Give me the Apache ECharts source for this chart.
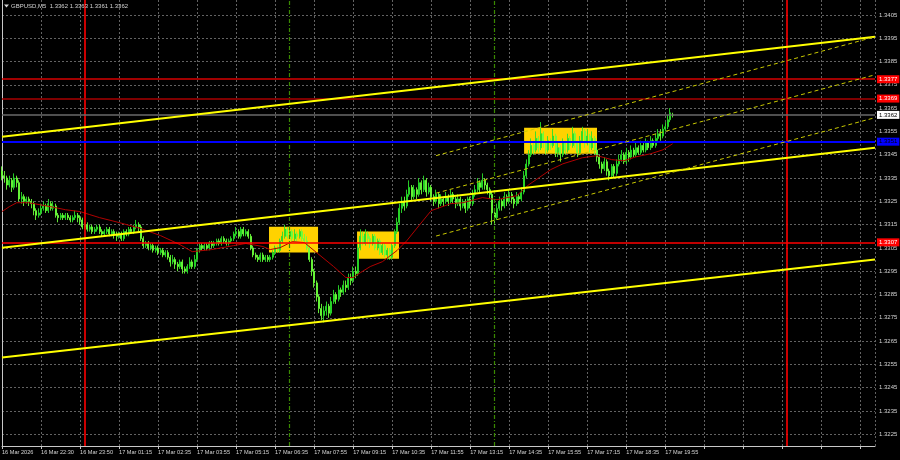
<!DOCTYPE html>
<html><head><meta charset="utf-8">
<script src="https://cdn.jsdelivr.net/npm/echarts@6/dist/echarts.min.js"></script>
<style>html,body{margin:0;padding:0;background:#000;}#c{width:900px;height:460px;}</style>
</head><body><div id="c"></div>
<script>
// ---------------- data ----------------
const symbolTitle = 'GBPUSD,M5  1.3362 1.3363 1.3361 1.3362';
// time-axis tick labels, one every 16 bars (80 minutes of M5 bars)
const xTickLabels = ['16 Mar 2026','16 Mar 22:30','16 Mar 23:50','17 Mar 01:15','17 Mar 02:35','17 Mar 03:55',
  '17 Mar 05:15','17 Mar 06:35','17 Mar 07:55','17 Mar 09:15','17 Mar 10:35','17 Mar 11:55','17 Mar 13:15',
  '17 Mar 14:35','17 Mar 15:55','17 Mar 17:15','17 Mar 18:35','17 Mar 19:55'];
const barSlots = 358;       // bar slots visible on the time axis (incl. empty right margin)
const tickEvery = 16;       // bars between time labels
const priceMin = 1.3220, priceMax = 1.34114, priceStep = 0.0005;

const opens = [
1.3338,1.3336,1.3335,1.3332,1.3334,1.3331,1.3335,1.3333,1.3326,1.3327,
1.3325,1.3326,1.3325,1.3324,1.3321,1.3319,1.3320,1.3322,1.3323,1.3321,
1.3324,1.3322,1.3323,1.3319,1.3318,1.3319,1.3318,1.3319,1.3318,1.3317,
1.3318,1.3319,1.3318,1.3317,1.3314,1.3315,1.3313,1.3314,1.3312,1.3313,
1.3314,1.3312,1.3311,1.3312,1.3313,1.3311,1.3312,1.3311,1.3310,1.3311,
1.3309,1.3312,1.3311,1.3313,1.3312,1.3314,1.3315,1.3314,1.3309,1.3306,
1.3307,1.3305,1.3306,1.3304,1.3305,1.3303,1.3304,1.3302,1.3303,1.3301,
1.3299,1.3300,1.3298,1.3297,1.3299,1.3296,1.3295,1.3297,1.3299,1.3297,
1.3300,1.3304,1.3306,1.3305,1.3306,1.3305,1.3307,1.3306,1.3307,1.3308,
1.3307,1.3309,1.3308,1.3307,1.3308,1.3309,1.3311,1.3312,1.3310,1.3313,
1.3311,1.3312,1.3310,1.3305,1.3302,1.3301,1.3300,1.3302,1.3300,1.3301,
1.3300,1.3301,1.3303,1.3305,1.3304,1.3308,1.3310,1.3313,1.3310,1.3312,
1.3309,1.3311,1.3310,1.3312,1.3309,1.3308,1.3305,1.3300,1.3295,1.3290,
1.3284,1.3279,1.3276,1.3278,1.3280,1.3277,1.3282,1.3285,1.3283,1.3287,
1.3286,1.3289,1.3288,1.3292,1.3291,1.3295,1.3294,1.3305,1.3310,1.3307,
1.3311,1.3309,1.3307,1.3310,1.3305,1.3308,1.3303,1.3306,1.3302,1.3304,
1.3301,1.3306,1.3312,1.3316,1.3322,1.3325,1.3323,1.3328,1.3331,1.3327,
1.3330,1.3328,1.3333,1.3330,1.3334,1.3329,1.3331,1.3327,1.3325,1.3328,
1.3324,1.3326,1.3325,1.3327,1.3325,1.3328,1.3326,1.3324,1.3326,1.3323,
1.3325,1.3322,1.3326,1.3324,1.3328,1.3330,1.3333,1.3331,1.3334,1.3332,
1.3330,1.3328,1.3320,1.3318,1.3322,1.3325,1.3323,1.3327,1.3325,1.3328,
1.3326,1.3324,1.3327,1.3326,1.3329,1.3336,1.3341,1.3345,1.3349,1.3347,
1.3352,1.3348,1.3354,1.3350,1.3347,1.3351,1.3349,1.3353,1.3346,1.3348,
1.3345,1.3350,1.3347,1.3352,1.3349,1.3354,1.3350,1.3346,1.3351,1.3355,
1.3350,1.3353,1.3348,1.3352,1.3347,1.3344,1.3341,1.3339,1.3342,1.3338,
1.3336,1.3340,1.3337,1.3341,1.3343,1.3345,1.3342,1.3346,1.3344,1.3347,
1.3345,1.3348,1.3346,1.3349,1.3347,1.3350,1.3348,1.3351,1.3349,1.3352,
1.3354,1.3353,1.3356,1.3357,1.3360,1.3362];
const highs = [
1.3340,1.3338,1.3336,1.3336,1.3335,1.3337,1.3336,1.3334,1.3329,1.3328,
1.3327,1.3327,1.3326,1.3325,1.3322,1.3322,1.3324,1.3325,1.3324,1.3326,
1.3325,1.3325,1.3324,1.3320,1.3320,1.3320,1.3320,1.3320,1.3319,1.3319,
1.3321,1.3320,1.3319,1.3318,1.3316,1.3316,1.3315,1.3315,1.3314,1.3315,
1.3315,1.3313,1.3313,1.3314,1.3314,1.3313,1.3313,1.3312,1.3312,1.3312,
1.3313,1.3313,1.3314,1.3314,1.3315,1.3317,1.3316,1.3315,1.3310,1.3308,
1.3308,1.3307,1.3307,1.3306,1.3306,1.3305,1.3305,1.3304,1.3304,1.3302,
1.3302,1.3301,1.3299,1.3300,1.3300,1.3297,1.3298,1.3301,1.3300,1.3302,
1.3305,1.3307,1.3307,1.3307,1.3307,1.3308,1.3308,1.3308,1.3309,1.3309,
1.3310,1.3310,1.3309,1.3309,1.3310,1.3312,1.3314,1.3313,1.3314,1.3314,
1.3313,1.3313,1.3311,1.3306,1.3303,1.3302,1.3303,1.3303,1.3302,1.3302,
1.3302,1.3304,1.3306,1.3306,1.3309,1.3312,1.3315,1.3314,1.3314,1.3313,
1.3313,1.3312,1.3313,1.3313,1.3311,1.3310,1.3306,1.3301,1.3296,1.3291,
1.3285,1.3281,1.3280,1.3282,1.3281,1.3284,1.3287,1.3286,1.3289,1.3288,
1.3291,1.3291,1.3294,1.3294,1.3297,1.3297,1.3307,1.3313,1.3312,1.3313,
1.3312,1.3310,1.3311,1.3311,1.3309,1.3309,1.3307,1.3307,1.3305,1.3305,
1.3307,1.3313,1.3318,1.3324,1.3327,1.3327,1.3330,1.3334,1.3332,1.3332,
1.3331,1.3335,1.3334,1.3336,1.3335,1.3333,1.3332,1.3328,1.3330,1.3329,
1.3328,1.3327,1.3329,1.3328,1.3330,1.3329,1.3327,1.3328,1.3327,1.3326,
1.3326,1.3327,1.3327,1.3330,1.3332,1.3335,1.3334,1.3337,1.3335,1.3333,
1.3331,1.3329,1.3322,1.3324,1.3327,1.3326,1.3329,1.3328,1.3330,1.3329,
1.3327,1.3329,1.3328,1.3331,1.3338,1.3343,1.3347,1.3352,1.3351,1.3355,
1.3353,1.3359,1.3355,1.3351,1.3353,1.3352,1.3356,1.3354,1.3350,1.3349,
1.3352,1.3351,1.3354,1.3353,1.3357,1.3355,1.3351,1.3353,1.3357,1.3356,
1.3356,1.3354,1.3355,1.3353,1.3348,1.3345,1.3342,1.3344,1.3343,1.3339,
1.3341,1.3341,1.3343,1.3345,1.3347,1.3346,1.3348,1.3347,1.3349,1.3348,
1.3350,1.3349,1.3351,1.3350,1.3352,1.3351,1.3353,1.3352,1.3354,1.3356,
1.3356,1.3358,1.3359,1.3362,1.3365,1.3363];
const lows = [
1.3334,1.3333,1.3330,1.3331,1.3329,1.3330,1.3331,1.3325,1.3324,1.3323,
1.3324,1.3323,1.3322,1.3319,1.3317,1.3318,1.3319,1.3321,1.3320,1.3320,
1.3321,1.3321,1.3318,1.3316,1.3317,1.3317,1.3317,1.3317,1.3316,1.3316,
1.3317,1.3316,1.3315,1.3313,1.3313,1.3312,1.3312,1.3311,1.3311,1.3312,
1.3311,1.3310,1.3310,1.3311,1.3310,1.3310,1.3309,1.3308,1.3309,1.3308,
1.3308,1.3310,1.3310,1.3311,1.3311,1.3313,1.3312,1.3308,1.3305,1.3305,
1.3304,1.3304,1.3303,1.3303,1.3302,1.3302,1.3301,1.3301,1.3300,1.3297,
1.3298,1.3296,1.3295,1.3296,1.3294,1.3294,1.3294,1.3296,1.3296,1.3296,
1.3299,1.3303,1.3304,1.3304,1.3304,1.3304,1.3305,1.3305,1.3306,1.3306,
1.3306,1.3307,1.3306,1.3306,1.3307,1.3308,1.3310,1.3309,1.3309,1.3310,
1.3310,1.3309,1.3304,1.3301,1.3300,1.3299,1.3299,1.3299,1.3299,1.3299,
1.3299,1.3300,1.3302,1.3303,1.3303,1.3307,1.3309,1.3309,1.3309,1.3308,
1.3308,1.3308,1.3309,1.3308,1.3307,1.3304,1.3299,1.3293,1.3288,1.3282,
1.3277,1.3274,1.3273,1.3276,1.3275,1.3276,1.3281,1.3281,1.3282,1.3284,
1.3285,1.3286,1.3287,1.3289,1.3290,1.3292,1.3293,1.3304,1.3306,1.3306,
1.3307,1.3305,1.3306,1.3304,1.3304,1.3302,1.3302,1.3301,1.3300,1.3300,
1.3300,1.3305,1.3311,1.3315,1.3320,1.3321,1.3322,1.3327,1.3325,1.3326,
1.3326,1.3327,1.3328,1.3329,1.3327,1.3328,1.3325,1.3323,1.3324,1.3322,
1.3323,1.3323,1.3324,1.3323,1.3324,1.3324,1.3322,1.3323,1.3321,1.3322,
1.3320,1.3321,1.3322,1.3323,1.3327,1.3329,1.3329,1.3330,1.3330,1.3328,
1.3326,1.3315,1.3315,1.3317,1.3321,1.3321,1.3322,1.3323,1.3324,1.3324,
1.3322,1.3323,1.3324,1.3325,1.3328,1.3335,1.3340,1.3344,1.3345,1.3346,
1.3346,1.3347,1.3348,1.3345,1.3346,1.3347,1.3348,1.3344,1.3344,1.3342,
1.3344,1.3345,1.3346,1.3347,1.3348,1.3348,1.3344,1.3345,1.3350,1.3348,
1.3349,1.3346,1.3347,1.3345,1.3342,1.3339,1.3337,1.3338,1.3336,1.3334,
1.3335,1.3335,1.3336,1.3340,1.3342,1.3341,1.3341,1.3342,1.3343,1.3344,
1.3344,1.3345,1.3345,1.3346,1.3346,1.3347,1.3347,1.3348,1.3348,1.3351,
1.3351,1.3352,1.3355,1.3356,1.3359,1.3361];
const closes = [
1.3336,1.3335,1.3332,1.3334,1.3331,1.3335,1.3333,1.3326,1.3327,1.3325,
1.3326,1.3325,1.3324,1.3321,1.3319,1.3320,1.3322,1.3323,1.3321,1.3324,
1.3322,1.3323,1.3319,1.3318,1.3319,1.3318,1.3319,1.3318,1.3317,1.3318,
1.3319,1.3318,1.3317,1.3314,1.3315,1.3313,1.3314,1.3312,1.3313,1.3314,
1.3312,1.3311,1.3312,1.3313,1.3311,1.3312,1.3311,1.3310,1.3311,1.3309,
1.3312,1.3311,1.3313,1.3312,1.3314,1.3315,1.3314,1.3309,1.3306,1.3307,
1.3305,1.3306,1.3304,1.3305,1.3303,1.3304,1.3302,1.3303,1.3301,1.3299,
1.3300,1.3298,1.3297,1.3299,1.3296,1.3295,1.3297,1.3299,1.3297,1.3300,
1.3304,1.3306,1.3305,1.3306,1.3305,1.3307,1.3306,1.3307,1.3308,1.3307,
1.3309,1.3308,1.3307,1.3308,1.3309,1.3311,1.3312,1.3310,1.3313,1.3311,
1.3312,1.3310,1.3305,1.3302,1.3301,1.3300,1.3302,1.3300,1.3301,1.3300,
1.3301,1.3303,1.3305,1.3304,1.3308,1.3310,1.3313,1.3310,1.3312,1.3309,
1.3311,1.3310,1.3312,1.3309,1.3308,1.3305,1.3300,1.3295,1.3290,1.3284,
1.3279,1.3276,1.3278,1.3280,1.3277,1.3282,1.3285,1.3283,1.3287,1.3286,
1.3289,1.3288,1.3292,1.3291,1.3295,1.3294,1.3305,1.3310,1.3307,1.3311,
1.3309,1.3307,1.3310,1.3305,1.3308,1.3303,1.3306,1.3302,1.3304,1.3301,
1.3306,1.3312,1.3316,1.3322,1.3325,1.3323,1.3328,1.3331,1.3327,1.3330,
1.3328,1.3333,1.3330,1.3334,1.3329,1.3331,1.3327,1.3325,1.3328,1.3324,
1.3326,1.3325,1.3327,1.3325,1.3328,1.3326,1.3324,1.3326,1.3323,1.3325,
1.3322,1.3326,1.3324,1.3328,1.3330,1.3333,1.3331,1.3334,1.3332,1.3330,
1.3328,1.3320,1.3318,1.3322,1.3325,1.3323,1.3327,1.3325,1.3328,1.3326,
1.3324,1.3327,1.3326,1.3329,1.3336,1.3341,1.3345,1.3349,1.3347,1.3352,
1.3348,1.3354,1.3350,1.3347,1.3351,1.3349,1.3353,1.3346,1.3348,1.3345,
1.3350,1.3347,1.3352,1.3349,1.3354,1.3350,1.3346,1.3351,1.3355,1.3350,
1.3353,1.3348,1.3352,1.3347,1.3344,1.3341,1.3339,1.3342,1.3338,1.3336,
1.3340,1.3337,1.3341,1.3343,1.3345,1.3342,1.3346,1.3344,1.3347,1.3345,
1.3348,1.3346,1.3349,1.3347,1.3350,1.3348,1.3351,1.3349,1.3352,1.3354,
1.3353,1.3356,1.3357,1.3360,1.3363,1.3362];

// moving average, read at sampled bars
const maBars = [0,3,6,11,20,26,32,36,40,48,57,65,73,78,86,95,100,107,110,114,119,124,129,136,141,144,147,151,156,162,166,171,176,184,189,197,203,211,216,225,230,238,244,250,255,260,266,271,275];
const maValues = [1.33206,1.33227,1.33244,1.33244,1.33227,1.33214,1.33206,1.33193,1.33180,1.33159,1.33133,1.33103,1.33064,1.33034,1.33043,1.33060,1.33069,1.33056,1.33043,1.33051,1.33077,1.33073,1.33030,1.32970,1.32923,1.32923,1.32944,1.32970,1.32991,1.33039,1.33081,1.33146,1.33210,1.33240,1.33244,1.33266,1.33257,1.33274,1.33321,1.33386,1.33411,1.33437,1.33446,1.33429,1.33424,1.33441,1.33454,1.33471,1.33497];

// trend lines: [bar0, price0, bar1, price1]
const trendSolid = [[0,1.33527,358,1.33956],[0,1.33051,358,1.33480],[0,1.32580,358,1.33000]];
const trendDashed = [[178,1.33446,358,1.33956],[178,1.33285,358,1.33793],[178,1.33101,358,1.33609]];
// horizontal levels
const levelPrices = [1.33774,1.33691,1.33621,1.33506,1.33074];
// vertical lines (bar index)
const dayBars = [34, 322];
const sessionBars = [118, 202];
// rectangles: [bar0, price0, bar1, price1]
const boxes = [[109.5,1.33141,129.6,1.33030],[145.6,1.33120,162.8,1.33004],[214.1,1.33566,244,1.33454]];

// ---------------- styles ----------------
const FONT = 'Liberation Sans';
const TXT = '#d4d4d4';
const GRIDC = '#626262';
const levelStyle = [
  {c:'#d80000', w:1.6, bg:'#ff0000', tc:'#ffffff'},
  {c:'#a80000', w:1.6, bg:'#ff0000', tc:'#ffffff'},
  {c:'#6a6a6a', w:1.5, bg:'#ffffff', tc:'#000000'},
  {c:'#0000ff', w:2, bg:'#0000ff', tc:'#000000'},
  {c:'#ff0000', w:1.6, bg:'#ff0000', tc:'#ffffff'}
];

const candleData = closes.map((c, i) => [i, opens[i], c, lows[i], highs[i]]);
const maData = maBars.map((b, k) => [b, maValues[k]]);

function vLineSeries(bars, color, width, type, z) {
  return { type: 'line', z: z, data: [], symbol: 'none',
    markLine: { silent: true, symbol: ['none', 'none'], animation: false, precision: 6,
      lineStyle: { color: color, width: width, type: type, opacity: 1 }, label: { show: false },
      data: bars.map(b => ({ xAxis: b })) } };
}

const series = [];
// rectangles (behind)
series.push({
  type: 'line', data: [], silent: true, z: 1, symbol: 'none',
  markArea: { silent: true, itemStyle: { color: '#ffd200', opacity: 1 },
    data: boxes.map(b => [{ coord: [b[0], b[1]] }, { coord: [b[2], b[3]] }]) }
});
series.push({
  type: 'candlestick', z: 3, data: candleData, barWidth: 1.5,
  itemStyle: { color: '#00a800', color0: '#6cff3a', borderColor: '#2ae02a', borderColor0: '#6cff3a', borderWidth: 0.9 }
});
series.push({ type: 'line', z: 4, data: maData, symbol: 'none', lineStyle: { color: '#b00000', width: 1 } });
trendSolid.forEach(t => series.push({ type: 'line', z: 5, data: [[t[0], t[1]], [t[2], t[3]]], symbol: 'none',
  lineStyle: { color: '#ffff00', width: 2 } }));
trendDashed.forEach(t => series.push({ type: 'line', z: 5, data: [[t[0], t[1]], [t[2], t[3]]], symbol: 'none',
  lineStyle: { color: '#c8c800', width: 1, type: [4, 3] } }));
series.push(vLineSeries(dayBars, '#ff0000', 1.6, 'solid', 6));
series.push(vLineSeries(sessionBars, '#3a8a00', 1.2, [4, 2, 1, 2], 6));
// horizontal levels, one series each so each keeps its own style
levelPrices.forEach((p, k) => {
  const s = levelStyle[k];
  series.push({ type: 'line', z: 7, data: [], symbol: 'none',
    markLine: { silent: true, symbol: ['none', 'none'], animation: false, precision: 6,
      lineStyle: { color: s.c, width: s.w, type: 'solid', opacity: 1 },
      label: { show: true, position: 'end', distance: 2, formatter: p.toFixed(4), fontSize: 6, fontFamily: FONT,
        color: s.tc, backgroundColor: s.bg, padding: [1, 2, 1, 2] },
      data: [{ yAxis: p }] } });
});

const option = {
  backgroundColor: '#000000',
  animation: false,
  grid: { left: 2, top: 0, width: 873, height: 446, containLabel: false, outerBoundsMode: 'none' },
  xAxis: {
    type: 'value', min: 0, max: barSlots, interval: tickEvery,
    axisLine: { show: true, onZero: false, lineStyle: { color: '#c8c8c8', width: 1 } },
    axisTick: { show: true, length: 3, lineStyle: { color: '#c8c8c8' } },
    axisLabel: { show: true, align: 'left', margin: 3, fontSize: 5.6, fontFamily: FONT, color: TXT,
      showMaxLabel: false, showMinLabel: true,
      formatter: v => { const k = Math.round(v / tickEvery); return (Math.abs(v - k * tickEvery) < 1e-6 && xTickLabels[k]) ? xTickLabels[k] : ''; } },
    splitLine: { show: true, lineStyle: { color: GRIDC, width: 1, type: [2, 2] } }
  },
  yAxis: [{
    type: 'value', position: 'right', min: priceMin, max: priceMax, interval: priceStep,
    axisLine: { show: true, lineStyle: { color: '#c8c8c8', width: 1 } },
    axisTick: { show: false },
    axisLabel: { margin: 4, fontSize: 6, fontFamily: FONT, color: TXT, showMaxLabel: false, showMinLabel: false,
      formatter: v => { const n = Math.round(v * 10000); return n % 10 === 5 ? (n / 10000).toFixed(4) : ''; } },
    splitLine: { show: true, showMinLine: true, showMaxLine: false, lineStyle: { color: ['rgba(0,0,0,0)', GRIDC], width: 1, type: [2, 2] } }
  }, {
    type: 'value', position: 'left', min: priceMin, max: priceMax,
    axisLine: { show: true, lineStyle: { color: '#c8c8c8', width: 1 } },
    axisTick: { show: false }, axisLabel: { show: false }, splitLine: { show: false }
  }],
  graphic: [
    { type: 'polygon', shape: { points: [[4, 4.5], [9, 4.5], [6.5, 7.5]] }, style: { fill: TXT }, z: 100 },
    { type: 'text', x: 11, y: 3, z: 100, style: { text: symbolTitle, fill: TXT, fontSize: 6, fontFamily: FONT, verticalAlign: 'top' } }
  ],
  series: series
};
const chart = echarts.init(document.getElementById('c'), null, { renderer: 'canvas', width: 900, height: 460 });
chart.setOption(option);
</script></body></html>
